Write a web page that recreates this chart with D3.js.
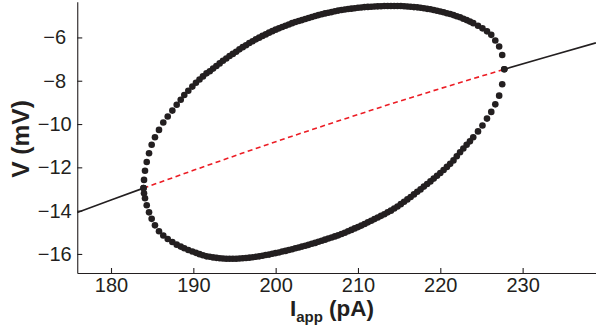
<!DOCTYPE html>
<html>
<head>
<meta charset="utf-8">
<script src="https://cdn.jsdelivr.net/npm/d3@7"></script>
<style>
  body { margin: 0; background: #fff; }
  svg { display: block; }
  text { font-family: "Liberation Sans", Arial, Helvetica, sans-serif; fill: #231f20; }
</style>
</head>
<body>
<svg id="chart" width="596" height="335"></svg>
<script>
// Periodic orbit: applied current and the max / min of V over one cycle
const orbitI = [
  183.95, 184.01, 184.13, 184.34, 184.62, 184.94, 185.34, 185.83, 186.35, 186.89,
  187.45, 187.98, 188.47, 188.90, 189.39, 189.88, 190.32, 190.75, 191.17, 191.60,
  192.0, 192.4, 192.8, 193.2, 193.6, 194.0, 194.4, 194.8, 195.2, 195.6,
  196.0, 196.4, 196.8, 197.2, 197.6, 198.0, 198.4, 198.8, 199.2, 199.6,
  200.0, 200.4, 200.8, 201.2, 201.6, 202.0, 202.4, 202.8, 203.2, 203.6,
  204.0, 204.4, 204.8, 205.2, 205.6, 206.0, 206.4, 206.8, 207.2, 207.6,
  208.0, 208.4, 208.8, 209.2, 209.6, 210.0, 210.4, 210.8, 211.2, 211.6,
  212.0, 212.4, 212.8, 213.2, 213.6, 214.0, 214.4, 214.8, 215.2, 215.6,
  216.0, 216.4, 216.8, 217.2, 217.6, 218.0, 218.4, 218.8, 219.2, 219.6,
  220.0, 220.4, 220.8, 221.2, 221.6, 222.0, 222.4, 222.8, 223.2, 223.6,
  224.0,
  224.58, 225.12, 225.67, 226.19, 226.68, 227.15, 227.52, 227.77
];
const orbitVmax = [
  -12.96, -12.58, -12.16, -11.75, -11.35, -10.96, -10.61, -10.27, -9.93, -9.65,
  -9.38, -9.11, -8.88, -8.66, -8.46, -8.27, -8.09, -7.94, -7.80, -7.66,
  -7.56, -7.44, -7.32, -7.20, -7.08, -6.97, -6.86, -6.76, -6.66, -6.55,
  -6.45, -6.36, -6.26, -6.18, -6.09, -6.01, -5.93, -5.86, -5.78, -5.71,
  -5.64, -5.58, -5.52, -5.46, -5.40, -5.34, -5.29, -5.24, -5.20, -5.15,
  -5.10, -5.06, -5.01, -4.97, -4.93, -4.89, -4.86, -4.83, -4.79, -4.76,
  -4.73, -4.71, -4.69, -4.67, -4.65, -4.63, -4.62, -4.60, -4.59, -4.58,
  -4.57, -4.565, -4.56, -4.55, -4.55, -4.55, -4.55, -4.55, -4.55, -4.56,
  -4.57, -4.58, -4.60, -4.61, -4.63, -4.65, -4.68, -4.70, -4.73, -4.77,
  -4.80, -4.84, -4.88, -4.92, -4.97, -5.02, -5.07, -5.14, -5.20, -5.27,
  -5.34,
  -5.46, -5.58, -5.72, -5.88, -6.14, -6.42, -6.81, -7.47
];
const orbitVmin = [
  -12.96, -13.20, -13.43, -13.75, -14.08, -14.38, -14.68, -14.95, -15.15, -15.31,
  -15.45, -15.57, -15.66, -15.74, -15.82, -15.89, -15.95, -16.01, -16.06, -16.11,
  -16.13, -16.16, -16.18, -16.20, -16.21, -16.22, -16.22, -16.22, -16.22, -16.21,
  -16.20, -16.19, -16.17, -16.15, -16.13, -16.11, -16.08, -16.05, -16.03, -15.99,
  -15.96, -15.93, -15.89, -15.86, -15.82, -15.78, -15.74, -15.70, -15.66, -15.62,
  -15.58, -15.53, -15.49, -15.44, -15.39, -15.34, -15.29, -15.24, -15.19, -15.14,
  -15.08, -15.02, -14.95, -14.89, -14.82, -14.76, -14.69, -14.62, -14.54, -14.47,
  -14.39, -14.32, -14.24, -14.17, -14.08, -14.00, -13.90, -13.81, -13.70, -13.59,
  -13.48, -13.37, -13.25, -13.13, -13.02, -12.89, -12.77, -12.65, -12.52, -12.39,
  -12.26, -12.12, -11.98, -11.84, -11.68, -11.49, -11.30, -11.13, -10.96, -10.80,
  -10.61,
  -10.34, -10.07, -9.75, -9.44, -9.09, -8.69, -8.16, -7.47
];

// Equilibrium branch: stable below the first Hopf point, unstable between, stable above
const eqStableLowI = [175.9, 180, 183.95];
const eqStableLowV = [-14.09, -13.51, -12.96];
const eqUnstableI = [183.95, 190, 196, 202, 208, 214, 220, 227.77];
const eqUnstableV = [-12.96, -12.14, -11.34, -10.56, -9.81, -9.07, -8.36, -7.47];
const eqStableHighI = [227.77, 233, 238.9];
const eqStableHighV = [-7.47, -6.89, -6.25];

const xTicks = [180, 190, 200, 210, 220, 230];
const yTicks = [-16, -14, -12, -10, -8, -6];

const ink = "#231f20";
const svg = d3.select("#chart");

const x = d3.scaleLinear().domain([175.9, 238.9]).range([77.25, 595.9]);
const y = d3.scaleLinear().domain([-16.88, -4.35]).range([273, 1.7]);

// Axes with inward ticks
const xAxis = svg.append("g")
  .attr("transform", `translate(0,${y.range()[0]})`)
  .call(d3.axisBottom(x).tickValues(xTicks).tickSizeInner(-5).tickSizeOuter(0).tickPadding(4.5));
const yAxis = svg.append("g")
  .attr("transform", `translate(${x.range()[0]},0)`)
  .call(d3.axisLeft(y).tickValues(yTicks).tickSizeInner(-5).tickSizeOuter(0));

[xAxis, yAxis].forEach(g => {
  g.select(".domain").attr("stroke", ink).attr("stroke-width", 1.1);
  g.selectAll(".tick line").attr("stroke", ink).attr("stroke-width", 1.1);
  g.selectAll(".tick text").attr("font-size", 20).attr("fill", ink)
    .style("font-family", '"Liberation Sans", Arial, sans-serif');
});
yAxis.selectAll(".tick text").attr("text-anchor", "middle").attr("x", -22.5);

// Equilibrium curve pieces
const line = d3.line().x(d => x(d[0])).y(d => y(d[1]));
const pairs = (a, b) => a.map((v, i) => [v, b[i]]);

svg.append("path")
  .attr("d", line(pairs(eqStableLowI, eqStableLowV)))
  .attr("fill", "none").attr("stroke", ink).attr("stroke-width", 1.6);
svg.append("path")
  .attr("d", line(pairs(eqStableHighI, eqStableHighV)))
  .attr("fill", "none").attr("stroke", ink).attr("stroke-width", 1.6);
svg.append("path")
  .attr("d", line(pairs(eqUnstableI, eqUnstableV)))
  .attr("fill", "none").attr("stroke", "#ec1c24").attr("stroke-width", 1.6)
  .attr("stroke-dasharray", "5,3.5");

// Periodic orbit extrema as filled dots
const orbitPts = pairs(orbitI, orbitVmax).concat(pairs(orbitI, orbitVmin));
svg.append("g").selectAll("circle")
  .data(orbitPts)
  .join("circle")
  .attr("cx", d => x(d[0]))
  .attr("cy", d => y(d[1]))
  .attr("r", 3.3)
  .attr("fill", ink);

// Axis titles
const xTitle = svg.append("text")
  .attr("x", 332).attr("y", 316)
  .attr("text-anchor", "middle")
  .attr("font-weight", "bold")
  .attr("font-size", 22.5);
xTitle.append("tspan").text("I");
xTitle.append("tspan").attr("font-size", 15).attr("dy", 6).text("app");
xTitle.append("tspan").attr("dy", -6).text(" (pA)");

svg.append("text")
  .attr("transform", "translate(28.5,139) rotate(-90)")
  .attr("text-anchor", "middle")
  .attr("font-weight", "bold")
  .attr("font-size", 24.5)
  .text("V (mV)");
</script>
</body>
</html>
